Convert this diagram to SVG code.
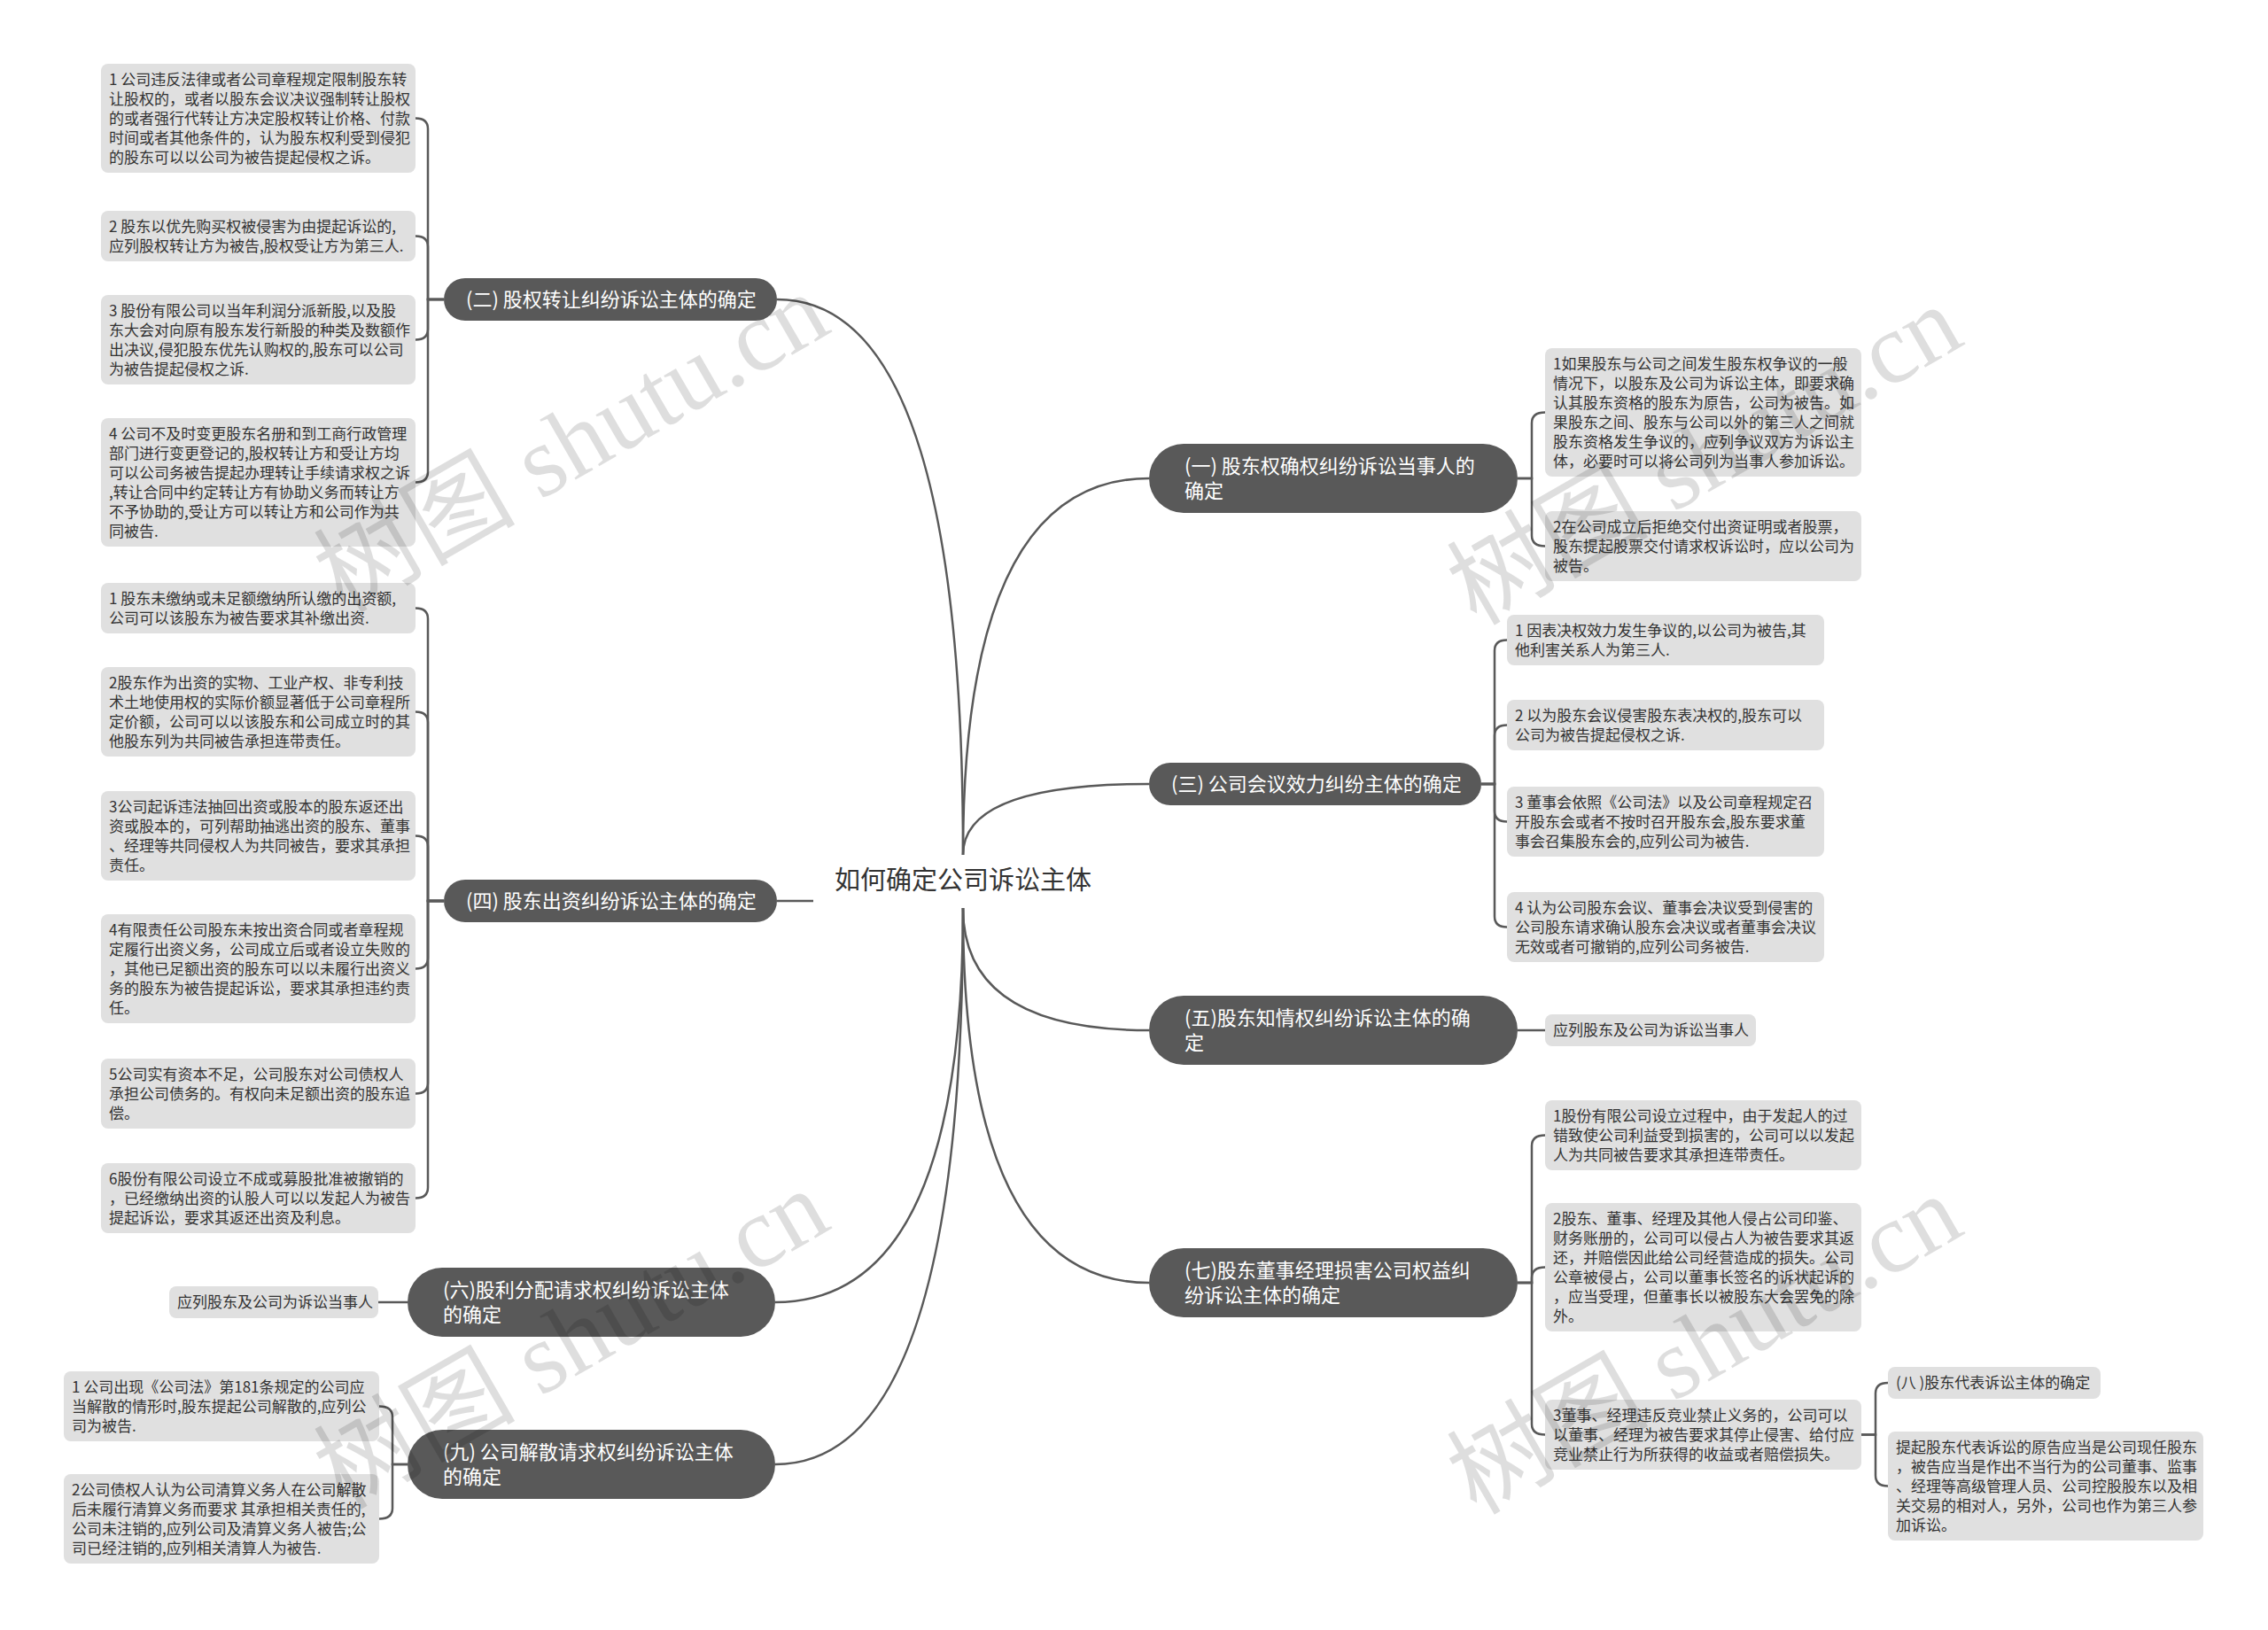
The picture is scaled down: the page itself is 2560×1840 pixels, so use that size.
<svg xmlns="http://www.w3.org/2000/svg" width="2560" height="1840" viewBox="0 0 2560 1840">
<style>
.pill{fill:#595959}
.leaf{fill:#e0e0e0}
.pt{font-family:"Noto Sans CJK SC",sans-serif;font-size:22px;fill:#ffffff}
.lt{font-family:"Noto Sans CJK SC",sans-serif;font-size:17px;fill:#333333}
.rt{font-family:"Noto Sans CJK SC",sans-serif;font-size:29px;fill:#333333}
.conn path{fill:none;stroke:#595959;stroke-width:2.5}
.wm{font-family:"Liberation Serif","Noto Sans CJK SC",serif;font-size:114px;fill:#000000;fill-opacity:0.13}
</style>
<rect width="2560" height="1840" fill="#ffffff"/>
<g id="connectors" class="conn">
<path d="M1087 965 Q1087 338 877 338"/>
<path d="M1087 965 Q1087 540 1297 540"/>
<path d="M1087 965 Q1087 885 1297 885"/>
<path d="M877 1017 H918"/>
<path d="M1087 1025 Q1087 1470 875 1470"/>
<path d="M1087 1025 Q1087 1653 875 1653"/>
<path d="M1087 1025 Q1087 1163 1297 1163"/>
<path d="M1087 1025 Q1087 1448 1297 1448"/>
<path d="M501 338 H483 V145.5 Q483 133.5 469 133.5"/>
<path d="M501 338 H483 V278.5 Q483 266.5 469 266.5"/>
<path d="M501 338 H483 V371.5 Q483 383.5 469 383.5"/>
<path d="M501 338 H483 V532.5 Q483 544.5 469 544.5"/>
<path d="M501 1017 H483 V698.5 Q483 686.5 469 686.5"/>
<path d="M501 1017 H483 V815.5 Q483 803.5 469 803.5"/>
<path d="M501 1017 H483 V955.5 Q483 943.5 469 943.5"/>
<path d="M501 1017 H483 V1081.5 Q483 1093.5 469 1093.5"/>
<path d="M501 1017 H483 V1222.5 Q483 1234.5 469 1234.5"/>
<path d="M501 1017 H483 V1340.5 Q483 1352.5 469 1352.5"/>
<path d="M460 1470 H427"/>
<path d="M460 1653 H443 V1599.5 Q443 1587.5 428 1587.5"/>
<path d="M460 1653 H443 V1702.5 Q443 1714.5 428 1714.5"/>
<path d="M1713 540 H1729 V477.5 Q1729 465.5 1744 465.5"/>
<path d="M1713 540 H1729 V604.5 Q1729 616.5 1744 616.5"/>
<path d="M1672 885 H1687 V734.5 Q1687 722.5 1701 722.5"/>
<path d="M1672 885 H1687 V830.5 Q1687 818.5 1701 818.5"/>
<path d="M1672 885 H1687 V915.5 Q1687 927.5 1701 927.5"/>
<path d="M1672 885 H1687 V1034.5 Q1687 1046.5 1701 1046.5"/>
<path d="M1713 1163 H1744"/>
<path d="M1713 1448 H1729 V1293.5 Q1729 1281.5 1744 1281.5"/>
<path d="M1713 1448 H1729 V1442.5 Q1729 1430.5 1744 1430.5"/>
<path d="M1713 1448 H1729 V1607.5 Q1729 1619.5 1744 1619.5"/>
<path d="M2101 1619.5 H2117 V1573 Q2117 1561 2131 1561"/>
<path d="M2101 1619.5 H2117 V1665.5 Q2117 1677.5 2131 1677.5"/>
</g>
<g id="root"><text class="rt" x="1087" y="1004" text-anchor="middle">如何确定公司诉讼主体</text></g>
<g id="b2"><rect class="pill" x="501" y="314" width="376" height="48" rx="24"/><text class="pt" x="526" y="346">(二) 股权转让纠纷诉讼主体的确定</text></g>
<g id="b4"><rect class="pill" x="501" y="993" width="376" height="48" rx="24"/><text class="pt" x="526" y="1025">(四) 股东出资纠纷诉讼主体的确定</text></g>
<g id="b6"><rect class="pill" x="460" y="1431" width="415" height="78" rx="39"/><text class="pt"><tspan x="500" y="1464">(六)股利分配请求权纠纷诉讼主体</tspan><tspan x="500" y="1492">的确定</tspan></text></g>
<g id="b9"><rect class="pill" x="460" y="1614" width="415" height="78" rx="39"/><text class="pt"><tspan x="500" y="1647">(九) 公司解散请求权纠纷诉讼主体</tspan><tspan x="500" y="1675">的确定</tspan></text></g>
<g id="b1"><rect class="pill" x="1297" y="501" width="416" height="78" rx="39"/><text class="pt"><tspan x="1337" y="534">(一) 股东权确权纠纷诉讼当事人的</tspan><tspan x="1337" y="562">确定</tspan></text></g>
<g id="b3"><rect class="pill" x="1297" y="861" width="375" height="48" rx="24"/><text class="pt" x="1322" y="893">(三) 公司会议效力纠纷主体的确定</text></g>
<g id="b5"><rect class="pill" x="1297" y="1124" width="416" height="78" rx="39"/><text class="pt"><tspan x="1337" y="1157">(五)股东知情权纠纷诉讼主体的确</tspan><tspan x="1337" y="1185">定</tspan></text></g>
<g id="b7"><rect class="pill" x="1297" y="1409" width="416" height="78" rx="39"/><text class="pt"><tspan x="1337" y="1442">(七)股东董事经理损害公司权益纠</tspan><tspan x="1337" y="1470">纷诉讼主体的确定</tspan></text></g>

<g id="l1"><rect class="leaf" x="114" y="72" width="355" height="123" rx="8"/><text class="lt"><tspan x="123" y="96">1 公司违反法律或者公司章程规定限制股东转</tspan><tspan x="123" y="118">让股权的，或者以股东会议决议强制转让股权</tspan><tspan x="123" y="140">的或者强行代转让方决定股权转让价格、付款</tspan><tspan x="123" y="162">时间或者其他条件的，认为股东权利受到侵犯</tspan><tspan x="123" y="184">的股东可以以公司为被告提起侵权之诉。</tspan></text></g>
<g id="l2"><rect class="leaf" x="114" y="238" width="355" height="57" rx="8"/><text class="lt"><tspan x="123" y="262">2 股东以优先购买权被侵害为由提起诉讼的,</tspan><tspan x="123" y="284">应列股权转让方为被告,股权受让方为第三人.</tspan></text></g>
<g id="l3"><rect class="leaf" x="114" y="333" width="355" height="101" rx="8"/><text class="lt"><tspan x="123" y="357">3 股份有限公司以当年利润分派新股,以及股</tspan><tspan x="123" y="379">东大会对向原有股东发行新股的种类及数额作</tspan><tspan x="123" y="401">出决议,侵犯股东优先认购权的,股东可以公司</tspan><tspan x="123" y="423">为被告提起侵权之诉.</tspan></text></g>
<g id="l4"><rect class="leaf" x="114" y="472" width="355" height="145" rx="8"/><text class="lt"><tspan x="123" y="496">4 公司不及时变更股东名册和到工商行政管理</tspan><tspan x="123" y="518">部门进行变更登记的,股权转让方和受让方均</tspan><tspan x="123" y="540">可以公司务被告提起办理转让手续请求权之诉</tspan><tspan x="123" y="562">,转让合同中约定转让方有协助义务而转让方</tspan><tspan x="123" y="584">不予协助的,受让方可以转让方和公司作为共</tspan><tspan x="123" y="606">同被告.</tspan></text></g>

<g id="m1"><rect class="leaf" x="114" y="658" width="355" height="57" rx="8"/><text class="lt"><tspan x="123" y="682">1 股东未缴纳或未足额缴纳所认缴的出资额,</tspan><tspan x="123" y="704">公司可以该股东为被告要求其补缴出资.</tspan></text></g>
<g id="m2"><rect class="leaf" x="114" y="753" width="355" height="101" rx="8"/><text class="lt"><tspan x="123" y="777">2股东作为出资的实物、工业产权、非专利技</tspan><tspan x="123" y="799">术土地使用权的实际价额显著低于公司章程所</tspan><tspan x="123" y="821">定价额，公司可以以该股东和公司成立时的其</tspan><tspan x="123" y="843">他股东列为共同被告承担连带责任。</tspan></text></g>
<g id="m3"><rect class="leaf" x="114" y="893" width="355" height="101" rx="8"/><text class="lt"><tspan x="123" y="917">3公司起诉违法抽回出资或股本的股东返还出</tspan><tspan x="123" y="939">资或股本的，可列帮助抽逃出资的股东、董事</tspan><tspan x="123" y="961">、经理等共同侵权人为共同被告，要求其承担</tspan><tspan x="123" y="983">责任。</tspan></text></g>
<g id="m4"><rect class="leaf" x="114" y="1032" width="355" height="123" rx="8"/><text class="lt"><tspan x="123" y="1056">4有限责任公司股东未按出资合同或者章程规</tspan><tspan x="123" y="1078">定履行出资义务，公司成立后或者设立失败的</tspan><tspan x="123" y="1100">，其他已足额出资的股东可以以未履行出资义</tspan><tspan x="123" y="1122">务的股东为被告提起诉讼，要求其承担违约责</tspan><tspan x="123" y="1144">任。</tspan></text></g>
<g id="m5"><rect class="leaf" x="114" y="1195" width="355" height="79" rx="8"/><text class="lt"><tspan x="123" y="1219">5公司实有资本不足，公司股东对公司债权人</tspan><tspan x="123" y="1241">承担公司债务的。有权向未足额出资的股东追</tspan><tspan x="123" y="1263">偿。</tspan></text></g>
<g id="m6"><rect class="leaf" x="114" y="1313" width="355" height="79" rx="8"/><text class="lt"><tspan x="123" y="1337">6股份有限公司设立不成或募股批准被撤销的</tspan><tspan x="123" y="1359">，已经缴纳出资的认股人可以以发起人为被告</tspan><tspan x="123" y="1381">提起诉讼，要求其返还出资及利息。</tspan></text></g>

<g id="k6"><rect class="leaf" x="191" y="1452" width="236" height="36" rx="8"/><text class="lt" x="200" y="1476">应列股东及公司为诉讼当事人</text></g>
<g id="n1"><rect class="leaf" x="72" y="1548" width="356" height="79" rx="8"/><text class="lt"><tspan x="81" y="1572">1 公司出现《公司法》第181条规定的公司应</tspan><tspan x="81" y="1594">当解散的情形时,股东提起公司解散的,应列公</tspan><tspan x="81" y="1616">司为被告.</tspan></text></g>
<g id="n2"><rect class="leaf" x="72" y="1664" width="356" height="101" rx="8"/><text class="lt"><tspan x="81" y="1688">2公司债权人认为公司清算义务人在公司解散</tspan><tspan x="81" y="1710">后未履行清算义务而要求 其承担相关责任的,</tspan><tspan x="81" y="1732">公司未注销的,应列公司及清算义务人被告;公</tspan><tspan x="81" y="1754">司已经注销的,应列相关清算人为被告.</tspan></text></g>

<g id="r1"><rect class="leaf" x="1744" y="393" width="357" height="145" rx="8"/><text class="lt"><tspan x="1753" y="417">1如果股东与公司之间发生股东权争议的一般</tspan><tspan x="1753" y="439">情况下，以股东及公司为诉讼主体，即要求确</tspan><tspan x="1753" y="461">认其股东资格的股东为原告，公司为被告。如</tspan><tspan x="1753" y="483">果股东之间、股东与公司以外的第三人之间就</tspan><tspan x="1753" y="505">股东资格发生争议的，应列争议双方为诉讼主</tspan><tspan x="1753" y="527">体，必要时可以将公司列为当事人参加诉讼。</tspan></text></g>
<g id="r2"><rect class="leaf" x="1744" y="577" width="357" height="79" rx="8"/><text class="lt"><tspan x="1753" y="601">2在公司成立后拒绝交付出资证明或者股票，</tspan><tspan x="1753" y="623">股东提起股票交付请求权诉讼时，应以公司为</tspan><tspan x="1753" y="645">被告。</tspan></text></g>

<g id="s1"><rect class="leaf" x="1701" y="694" width="358" height="57" rx="8"/><text class="lt"><tspan x="1710" y="718">1 因表决权效力发生争议的,以公司为被告,其</tspan><tspan x="1710" y="740">他利害关系人为第三人.</tspan></text></g>
<g id="s2"><rect class="leaf" x="1701" y="790" width="358" height="57" rx="8"/><text class="lt"><tspan x="1710" y="814">2 以为股东会议侵害股东表决权的,股东可以</tspan><tspan x="1710" y="836">公司为被告提起侵权之诉.</tspan></text></g>
<g id="s3"><rect class="leaf" x="1701" y="888" width="358" height="79" rx="8"/><text class="lt"><tspan x="1710" y="912">3 董事会依照《公司法》以及公司章程规定召</tspan><tspan x="1710" y="934">开股东会或者不按时召开股东会,股东要求董</tspan><tspan x="1710" y="956">事会召集股东会的,应列公司为被告.</tspan></text></g>
<g id="s4"><rect class="leaf" x="1701" y="1007" width="358" height="79" rx="8"/><text class="lt"><tspan x="1710" y="1031">4 认为公司股东会议、董事会决议受到侵害的</tspan><tspan x="1710" y="1053">公司股东请求确认股东会决议或者董事会决议</tspan><tspan x="1710" y="1075">无效或者可撤销的,应列公司务被告.</tspan></text></g>

<g id="k5"><rect class="leaf" x="1744" y="1145" width="238" height="36" rx="8"/><text class="lt" x="1753" y="1169">应列股东及公司为诉讼当事人</text></g>

<g id="t1"><rect class="leaf" x="1744" y="1242" width="357" height="79" rx="8"/><text class="lt"><tspan x="1753" y="1266">1股份有限公司设立过程中，由于发起人的过</tspan><tspan x="1753" y="1288">错致使公司利益受到损害的，公司可以以发起</tspan><tspan x="1753" y="1310">人为共同被告要求其承担连带责任。</tspan></text></g>
<g id="t2"><rect class="leaf" x="1744" y="1358" width="357" height="145" rx="8"/><text class="lt"><tspan x="1753" y="1382">2股东、董事、经理及其他人侵占公司印鉴、</tspan><tspan x="1753" y="1404">财务账册的，公司可以侵占人为被告要求其返</tspan><tspan x="1753" y="1426">还，并赔偿因此给公司经营造成的损失。公司</tspan><tspan x="1753" y="1448">公章被侵占，公司以董事长签名的诉状起诉的</tspan><tspan x="1753" y="1470">，应当受理，但董事长以被股东大会罢免的除</tspan><tspan x="1753" y="1492">外。</tspan></text></g>
<g id="t3"><rect class="leaf" x="1744" y="1580" width="357" height="79" rx="8"/><text class="lt"><tspan x="1753" y="1604">3董事、经理违反竞业禁止义务的，公司可以</tspan><tspan x="1753" y="1626">以董事、经理为被告要求其停止侵害、给付应</tspan><tspan x="1753" y="1648">竞业禁止行为所获得的收益或者赔偿损失。</tspan></text></g>

<g id="u1"><rect class="leaf" x="2131" y="1543" width="240" height="36" rx="8"/><text class="lt" x="2140" y="1567">(八 )股东代表诉讼主体的确定</text></g>
<g id="u2"><rect class="leaf" x="2131" y="1616" width="356" height="123" rx="8"/><text class="lt"><tspan x="2140" y="1640">提起股东代表诉讼的原告应当是公司现任股东</tspan><tspan x="2140" y="1662">，被告应当是作出不当行为的公司董事、监事</tspan><tspan x="2140" y="1684">、经理等高级管理人员、公司控股股东以及相</tspan><tspan x="2140" y="1706">关交易的相对人，另外，公司也作为第三人参</tspan><tspan x="2140" y="1728">加诉讼。</tspan></text></g>

<g id="watermarks">
<text class="wm" x="645" y="500" text-anchor="middle" dominant-baseline="central" transform="rotate(-30 645 500)">树图 shutu.cn</text>
<text class="wm" x="1924" y="514" text-anchor="middle" dominant-baseline="central" transform="rotate(-30 1924 514)">树图 shutu.cn</text>
<text class="wm" x="645" y="1512" text-anchor="middle" dominant-baseline="central" transform="rotate(-30 645 1512)">树图 shutu.cn</text>
<text class="wm" x="1924" y="1518" text-anchor="middle" dominant-baseline="central" transform="rotate(-30 1924 1518)">树图 shutu.cn</text>
</g>
</svg>
